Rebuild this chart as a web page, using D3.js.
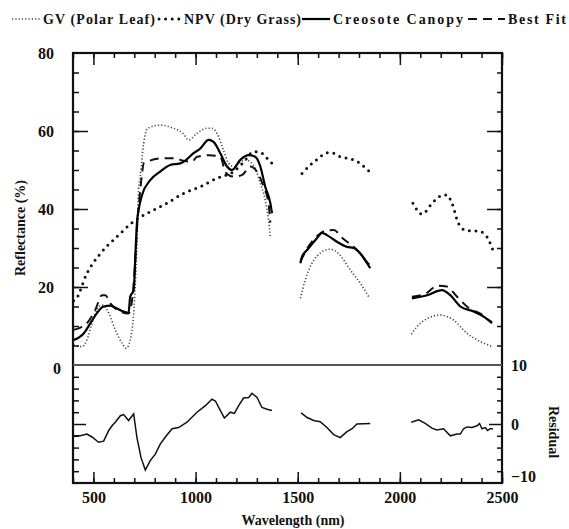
<!DOCTYPE html>
<html>
<head>
<meta charset="utf-8">
<script src="https://cdn.jsdelivr.net/npm/d3@7"></script>
<style>
  body { margin: 0; background: #fff; }
  svg text { font-family: "Liberation Serif", "DejaVu Serif", serif; font-weight: bold; fill: #111; }
</style>
</head>
<body>
<div id="chart"></div>
<script>
// spectra: [wavelength nm, reflectance %], null = gap (water bands)
const gvLeaf = [[403,5.1],[444,4.7],[468,6.4],[493,10.7],[517,14.1],[542,15.4],[575,13.3],[607,9],[640,5.6],[661,4.3],[680,6.4],[702,17.5],[713,31.2],[721,44.9],[729,48.3],[746,56.8],[765,60.7],[827,61.5],[892,60.7],[940,59.3],[966,57.7],[1007,59.4],[1056,60.7],[1080,60.7],[1105,59.4],[1137,55],[1162,51.7],[1190,50.8],[1220,52],[1244,52.6],[1268,52.1],[1292,50.4],[1317,46.6],[1341,42.3],[1357,37.2],[1366,32.9],
  [1450,null],
  [1513,17.1],[1537,21.8],[1594,27.9],[1659,29.7],[1700,28.6],[1757,24.4],[1806,21],[1852,17.1],
  [1950,null],
  [2056,7.9],[2100,10.7],[2198,12.8],[2263,11.5],[2329,8.1],[2394,6],[2454,4.7]];

const npvGrass = [[403,16.5],[411,16.7],[468,23.5],[534,28.6],[615,32.9],[697,36.8],[778,39.3],[860,41.5],[941,44],[1023,45.7],[1105,47.9],[1186,49.6],[1235,52],[1284,54.7],[1325,54.3],[1350,53],[1374,51.7],
  [1450,null],
  [1521,49.1],[1562,51.3],[1602,53],[1643,54.4],[1676,54.3],[1708,53.4],[1741,53],[1774,52.6],[1852,49.6],
  [1950,null],
  [2064,41.5],[2108,38.7],[2165,41.9],[2214,43.6],[2230,43.6],[2255,41.5],[2287,36.3],[2320,34.6],[2394,34.2],[2426,32.9],[2454,29.7]];

const creosote = [[403,6.4],[452,8.1],[485,10.7],[517,13.3],[550,15],[583,15.2],[615,14.5],[648,13.7],[672,13.4],[680,17.5],[697,19.2],[705,27.8],[713,36.3],[724,40.6],[738,43.6],[778,47.4],[827,49.6],[876,51.3],[925,51.7],[941,52.1],[990,54.3],[1023,55.5],[1064,57.7],[1088,57.2],[1121,54.3],[1154,50.9],[1178,50],[1219,52.6],[1260,53.8],[1292,53.4],[1317,50.9],[1341,45.7],[1366,41.5],[1374,38.9],
  [1450,null],
  [1513,26.1],[1521,27.8],[1546,29.5],[1594,32.5],[1619,33.9],[1643,33.3],[1692,31.6],[1741,30.3],[1774,30],[1855,24.8],
  [1950,null],
  [2059,17.1],[2133,17.9],[2206,19.2],[2247,17.9],[2296,15],[2361,13.7],[2410,12.4],[2451,10.7]];

const bestFit = [[403,9],[468,10.7],[509,14.1],[542,17.9],[558,17.9],[583,15.8],[632,13.7],[672,13.2],[690,17],[705,27],[713,35],[724,42],[738,49.1],[746,51.7],[762,52.1],[843,53],[909,53],[925,52.6],[982,52.1],[1007,53.4],[1064,53.8],[1121,53.4],[1145,49.6],[1162,48.7],[1186,48.3],[1227,48.7],[1268,50.9],[1300,49.6],[1333,45.7],[1357,41.5],[1366,36.5],
  [1450,null],
  [1513,26.5],[1546,29.8],[1594,33],[1640,34.5],[1676,34.6],[1720,32.5],[1790,29.5],[1846,26],[1855,25.5],
  [1950,null],
  [2059,17.5],[2133,18.5],[2181,20.3],[2230,20.1],[2280,17.5],[2340,14.5],[2400,13],[2435,11.5],[2451,11]];

const residual = [[403,-2],[436,-2],[468,-1.7],[493,-2.2],[525,-3.1],[550,-2.9],[575,-1.1],[591,-0.3],[607,0.3],[632,1.4],[648,1.6],[672,0.6],[697,1.7],[713,-2.3],[733,-5.7],[754,-7.8],[778,-6.2],[803,-5.1],[827,-3.4],[852,-2.2],[885,-0.8],[917,-0.6],[958,0.3],[1007,2],[1048,3.1],[1080,4.2],[1097,3.9],[1121,2.3],[1141,1],[1170,2],[1190,1.8],[1211,3.1],[1235,4.4],[1260,4.5],[1276,5.2],[1301,4.5],[1325,2.8],[1350,2.5],[1374,2.3],
  [1450,null],
  [1517,1.9],[1546,1.1],[1578,0.6],[1610,0.4],[1643,-0.6],[1676,-1.8],[1708,-2.3],[1741,-1.3],[1766,-0.8],[1790,0],[1855,0.1],
  [1950,null],
  [2056,0.3],[2092,0.7],[2124,0.1],[2157,-0.7],[2181,-1],[2214,-0.8],[2247,-2],[2280,-1.7],[2296,-1.7],[2312,-0.8],[2329,-0.5],[2353,-0.6],[2378,-0.3],[2390,0.1],[2402,-0.8],[2418,-0.6],[2429,-1.1],[2443,-0.8],[2456,-0.8]];

const xMajor = [500, 1000, 1500, 2000, 2500];
const reflMajor = [0, 20, 40, 60, 80];
const resMajor = [-10, 0, 10];

const legendItems = ["GV (Polar Leaf)", "NPV (Dry Grass)", "Creosote Canopy", "Best Fit"];

const serif = '"Liberation Serif", "DejaVu Serif", serif';

function init() {
  const W = 569, H = 529;
  const left = 73, right = 502, top = 53, mid = 365, bottom = 483;

  const svg = d3.select("#chart").append("svg")
      .attr("width", W)
      .attr("height", H);

  const x = d3.scaleLinear().domain([400, 2500]).range([left, right]);
  const yRefl = d3.scaleLinear().domain([0, 80]).range([mid, top]);
  const yRes = d3.scaleLinear().domain([-10, 10]).range([bottom, mid]);

  const styles = {
    gv:   { stroke: "#444", width: 1.6, dash: "1.2 2.1", cap: "butt" },
    npv:  { stroke: "#111", width: 3,   dash: "0 6.6",   cap: "round" },
    cre:  { stroke: "#000", width: 2.2, dash: null,      cap: "butt" },
    fit:  { stroke: "#111", width: 2,   dash: "9 6",     cap: "butt" }
  };

  function styled(sel, s) {
    return sel.attr("fill", "none")
      .attr("stroke", s.stroke)
      .attr("stroke-width", s.width)
      .attr("stroke-dasharray", s.dash)
      .attr("stroke-linecap", s.cap);
  }

  // spectra
  const spec = d3.line()
      .defined(d => d[1] !== null)
      .x(d => x(d[0]))
      .y(d => yRefl(d[1]))
      .curve(d3.curveMonotoneX);

  styled(svg.append("path").datum(npvGrass).attr("d", spec), styles.npv);
  styled(svg.append("path").datum(gvLeaf).attr("d", spec), styles.gv);
  styled(svg.append("path").datum(bestFit).attr("d", spec), styles.fit);
  styled(svg.append("path").datum(creosote).attr("d", spec), styles.cre);

  // residual
  const resLine = d3.line()
      .defined(d => d[1] !== null)
      .x(d => x(d[0]))
      .y(d => yRes(d[1]));
  svg.append("path").datum(residual)
      .attr("d", resLine)
      .attr("fill", "none")
      .attr("stroke", "#111")
      .attr("stroke-width", 1.5);

  // axes: ticks point inward
  const noDomain = g => g.select(".domain").remove();
  const tickStyle = g => g.selectAll("line").attr("stroke", "#111").attr("stroke-width", 1.5);
  const textStyle = g => g.attr("font-family", serif).attr("font-size", 16).attr("font-weight", "bold")
      .selectAll("text").attr("fill", "#111");

  const minorX = d3.range(400, 2501, 100);

  // bottom
  svg.append("g").attr("transform", "translate(0," + bottom + ")")
      .call(d3.axisBottom(x).tickValues(minorX).tickSize(-5).tickFormat(""))
      .call(noDomain).call(tickStyle);
  svg.append("g").attr("transform", "translate(0," + bottom + ")")
      .call(d3.axisBottom(x).tickValues(xMajor).tickSize(-11).tickPadding(9).tickFormat(d3.format("d")))
      .call(noDomain).call(tickStyle).call(textStyle);
  // top
  svg.append("g").attr("transform", "translate(0," + top + ")")
      .call(d3.axisTop(x).tickValues(minorX).tickSize(-5).tickFormat(""))
      .call(noDomain).call(tickStyle);
  svg.append("g").attr("transform", "translate(0," + top + ")")
      .call(d3.axisTop(x).tickValues(xMajor).tickSize(-12).tickFormat(""))
      .call(noDomain).call(tickStyle);

  // reflectance panel, left and right
  const minorRefl = d3.range(5, 80, 5);
  svg.append("g").attr("transform", "translate(" + left + ",0)")
      .call(d3.axisLeft(yRefl).tickValues(minorRefl).tickSize(-6).tickFormat(""))
      .call(noDomain).call(tickStyle);
  const leftLab = svg.append("g").attr("transform", "translate(" + left + ",0)")
      .call(d3.axisLeft(yRefl).tickValues(reflMajor).tickSize(-15).tickPadding(19).tickFormat(d3.format("d")))
      .call(noDomain).call(tickStyle).call(textStyle);
  leftLab.selectAll(".tick").filter(d => d === 0).select("text").attr("x", -12).attr("dy", "0.55em");
  leftLab.selectAll(".tick").filter(d => d === 0).select("line").remove();
  leftLab.selectAll(".tick").filter(d => d === 80).select("line").remove();

  svg.append("g").attr("transform", "translate(" + right + ",0)")
      .call(d3.axisRight(yRefl).tickValues(minorRefl).tickSize(-5).tickFormat(""))
      .call(noDomain).call(tickStyle);
  svg.append("g").attr("transform", "translate(" + right + ",0)")
      .call(d3.axisRight(yRefl).tickValues([20, 40, 60]).tickSize(-15).tickFormat(""))
      .call(noDomain).call(tickStyle);

  // residual panel, left and right
  const minorRes = [-8, -6, -4, -2, 2, 4, 6, 8];
  svg.append("g").attr("transform", "translate(" + left + ",0)")
      .call(d3.axisLeft(yRes).tickValues(minorRes).tickSize(-6).tickFormat(""))
      .call(noDomain).call(tickStyle);
  svg.append("g").attr("transform", "translate(" + left + ",0)")
      .call(d3.axisLeft(yRes).tickValues([0]).tickSize(-13).tickFormat(""))
      .call(noDomain).call(tickStyle);
  svg.append("g").attr("transform", "translate(" + right + ",0)")
      .call(d3.axisRight(yRes).tickValues(minorRes).tickSize(-5).tickFormat(""))
      .call(noDomain).call(tickStyle);
  const rightLab = svg.append("g").attr("transform", "translate(" + right + ",0)")
      .call(d3.axisRight(yRes).tickValues(resMajor).tickSize(-13).tickPadding(9).tickFormat(d3.format("d")))
      .call(noDomain).call(tickStyle).call(textStyle);
  rightLab.selectAll(".tick").filter(d => d !== 0).select("line").remove();
  rightLab.selectAll(".tick").filter(d => d === -10).select("text").attr("dy", "-0.1em");

  // frame and panel divider
  svg.append("rect")
      .attr("x", left).attr("y", top)
      .attr("width", right - left).attr("height", bottom - top)
      .attr("fill", "none").attr("stroke", "#111").attr("stroke-width", 2.2);
  svg.append("line")
      .attr("x1", left).attr("x2", right)
      .attr("y1", mid).attr("y2", mid)
      .attr("stroke", "#555").attr("stroke-width", 2.2);

  // axis titles
  svg.append("text")
      .attr("transform", "translate(25,228) rotate(-90)")
      .attr("text-anchor", "middle")
      .attr("font-family", serif)
      .style("font-size", "14px")
      .text("Reflectance (%)");
  svg.append("text")
      .attr("transform", "translate(549,432) rotate(90)")
      .attr("text-anchor", "middle")
      .attr("font-family", serif)
      .style("font-size", "14px")
      .text("Residual");
  svg.append("text")
      .attr("x", 293).attr("y", 525)
      .attr("text-anchor", "middle")
      .attr("font-family", serif)
      .style("font-size", "14px")
      .text("Wavelength (nm)");

  // legend along the top
  const legend = [
    { label: legendItems[0], s: styles.gv,  x1: 12,  x2: 40,  tx: 43,  tw: 112 },
    { label: legendItems[1], s: styles.npv, x1: 159, x2: 182, tx: 184, tw: 117 },
    { label: legendItems[2], s: styles.cre, x1: 302, x2: 330, tx: 333, tw: 130 },
    { label: legendItems[3], s: styles.fit, x1: 468, x2: 505, tx: 508, tw: 58 }
  ];
  const lg = svg.append("g").attr("class", "legend");
  legend.forEach(d => {
    styled(lg.append("line")
        .attr("x1", d.x1).attr("x2", d.x2)
        .attr("y1", 19).attr("y2", 19), d.s);
    lg.append("text")
        .attr("x", d.tx).attr("y", 24)
        .attr("font-family", serif)
        .attr("textLength", d.tw)
        .attr("lengthAdjust", "spacing")
        .style("font-size", "14px")
        .text(d.label);
  });
}

window.onload = init;
</script>
</body>
</html>
